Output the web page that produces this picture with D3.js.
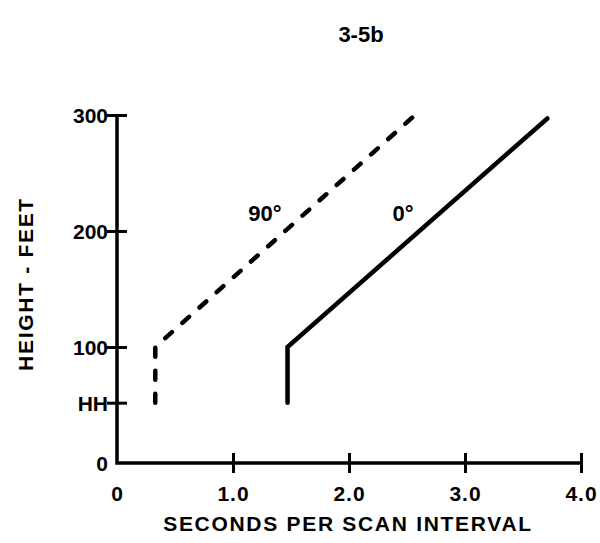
<!DOCTYPE html>
<html>
<head>
<meta charset="utf-8">
<script src="https://cdn.jsdelivr.net/npm/d3@7"></script>
<style>
  body { margin: 0; background: #fff; }
  text { font-family: "Liberation Sans", Arial, sans-serif; font-weight: bold; fill: #000; }
</style>
</head>
<body>
<svg></svg>
<script>
const xTicks = [0, 1, 2, 3, 4];
const xTickLabels = ['0', '1.0', '2.0', '3.0', '4.0'];
const yTicks = [0, 52, 100, 200, 300];
const yTickLabels = ['0', 'HH', '100', '200', '300'];

// 90 degree (dashed) and 0 degree (solid)
const dashedX = [0.33, 0.33, 2.57];
const dashedY = [52, 100, 300];
const solidX = [1.47, 1.47, 3.71];
const solidY = [52, 100, 297];

const width = 600;
const height = 543;

let svg = d3.select('svg').attr('width', width).attr('height', height);

const xScale = d3.scaleLinear().domain([0, 4]).range([117, 581]);
const yScale = d3.scaleLinear().domain([0, 300]).range([463, 115]);

// title
svg.append('text')
    .attr('x', 361).attr('y', 42)
    .attr('text-anchor', 'middle')
    .style('font-size', '22px')
    .text('3-5b');

// axes
const xAxis = d3.axisBottom(xScale)
    .tickValues(xTicks)
    .tickFormat((d, i) => xTickLabels[i]);
const gx = svg.append('g')
    .attr('transform', 'translate(0,' + yScale(0) + ')')
    .call(xAxis);
gx.select('.domain').remove();
gx.selectAll('.tick line')
    .attr('y1', -10).attr('y2', 10)
    .attr('stroke', '#000').attr('stroke-width', 3)
    .attr('display', d => d === 0 ? 'none' : null);
gx.selectAll('.tick text')
    .attr('y', 38).attr('dy', 0)
    .style('font-size', '21px')
    .style('letter-spacing', '1px');

const yAxis = d3.axisLeft(yScale)
    .tickValues(yTicks)
    .tickFormat((d, i) => yTickLabels[i]);
const gy = svg.append('g')
    .attr('transform', 'translate(' + xScale(0) + ',0)')
    .call(yAxis);
gy.select('.domain').remove();
gy.selectAll('.tick line')
    .attr('x1', -10).attr('x2', 10)
    .attr('stroke', '#000').attr('stroke-width', 3)
    .attr('display', d => d === 0 ? 'none' : null);
gy.selectAll('.tick text')
    .attr('x', -9).attr('dy', '0.36em')
    .style('font-size', '21px');

// axis lines
svg.append('path')
    .attr('d', d3.line()([[xScale(0), yScale(300)], [xScale(0), yScale(0)], [xScale(4), yScale(0)]]))
    .attr('fill', 'none').attr('stroke', '#000').attr('stroke-width', 3.5);

// axis titles
svg.append('text')
    .attr('x', 348).attr('y', 531)
    .attr('text-anchor', 'middle')
    .style('font-size', '21px')
    .style('letter-spacing', '1.7px')
    .text('SECONDS PER SCAN INTERVAL');

svg.append('text')
    .attr('transform', 'translate(33,284) rotate(-90)')
    .attr('text-anchor', 'middle')
    .style('font-size', '21px')
    .style('letter-spacing', '1.7px')
    .text('HEIGHT - FEET');

// data lines
const line = d3.line().x(d => xScale(d[0])).y(d => yScale(d[1]));

svg.append('path')
    .datum(dashedX.map((x, i) => [x, dashedY[i]]))
    .attr('d', line)
    .attr('fill', 'none').attr('stroke', '#000').attr('stroke-width', 4.5)
    .attr('stroke-linecap', 'round')
    .attr('stroke-dasharray', '9,14');

svg.append('path')
    .datum(solidX.map((x, i) => [x, solidY[i]]))
    .attr('d', line)
    .attr('fill', 'none').attr('stroke', '#000').attr('stroke-width', 4.5)
    .attr('stroke-linecap', 'round');

// line labels
svg.append('text').attr('x', 265).attr('y', 221)
    .attr('text-anchor', 'middle').style('font-size', '22px').text('90°');
svg.append('text').attr('x', 403).attr('y', 221)
    .attr('text-anchor', 'middle').style('font-size', '22px').text('0°');
</script>
</body>
</html>
